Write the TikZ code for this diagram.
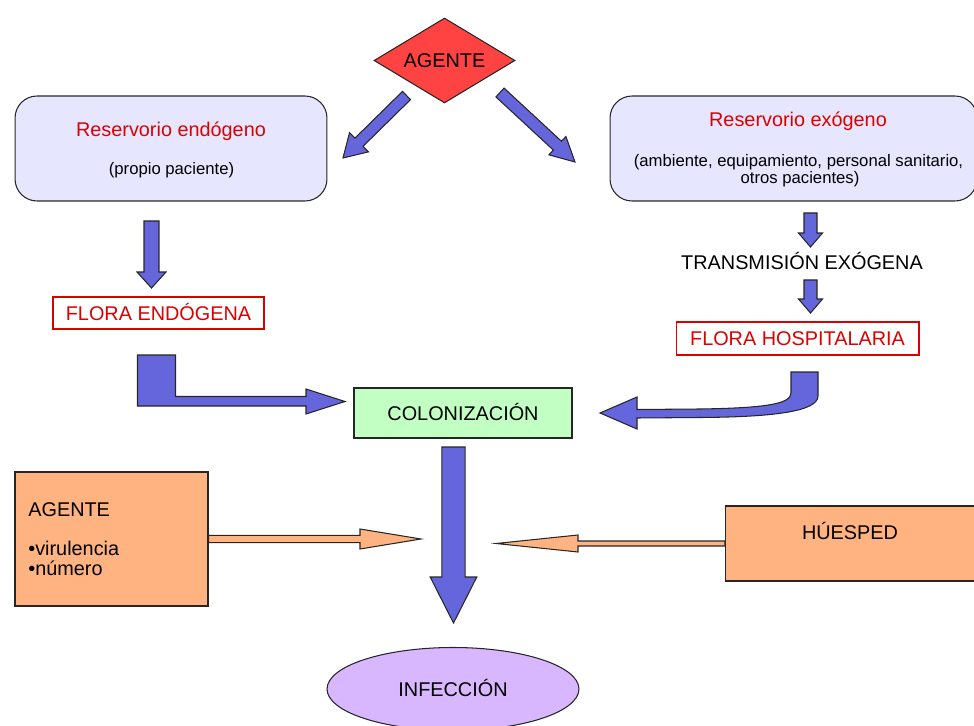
\documentclass[tikz,border=0pt]{standalone}
\usepackage{fontspec}
\setmainfont{Liberation Sans}
\usepackage{tikz}
\usetikzlibrary{shapes.geometric,calc}
\definecolor{agentred}{RGB}{255,66,66}
\definecolor{arrowblue}{RGB}{102,102,220}
\definecolor{reslav}{RGB}{230,230,255}
\definecolor{colgreen}{RGB}{194,255,194}
\definecolor{hostorange}{RGB}{255,179,128}
\definecolor{infpurple}{RGB}{217,183,255}
\definecolor{florared}{RGB}{220,0,0}
\newcommand{\mainsize}{\fontsize{11.3pt}{13pt}\selectfont}
\newcommand{\subsize}{\fontsize{9.5pt}{11pt}\selectfont}
% block arrow: [style]{tail}{tip}{half shaft}{half head}{head length}
\newcommand{\blockarrow}[6][]{%
  \coordinate (ba-c) at ($(#3)!#6!(#2)$);
  \draw[line width=0.6pt,#1] ($(#2)!#4!90:(#3)$) -- ($(ba-c)!#4!-90:(#2)$)
    -- ($(ba-c)!#5!-90:(#2)$) -- (#3) -- ($(ba-c)!#5!90:(#2)$)
    -- ($(ba-c)!#4!90:(#2)$) -- ($(#2)!#4!-90:(#3)$) -- cycle;
}

\begin{document}
\begin{tikzpicture}[x=0.02cm,y=-0.02cm,
    every node/.style={inner sep=0pt,font=\mainsize},
    outline/.style={draw=black!85,line width=0.6pt},
    capline/.style={text height=8.1pt,text depth=0pt},
    resbox/.style={outline,fill=reslav,rounded corners=0.44cm,minimum width=#1,minimum height=2.1cm},
    florabox/.style={draw=florared,line width=0.6pt,fill=white,text=florared,capline},
    blockblue/.style={draw=black!85,fill=arrowblue},
    blockorange/.style={draw=black!85,fill=hostorange}]
  \useasboundingbox (0,0) rectangle (974,726);
  \clip (0,0) rectangle (974,726);
  % Agent at the top
  \node[diamond,aspect=1.66,outline,fill=agentred,minimum width=2.82cm,minimum height=1.7cm,capline] (agente) at (444.5,60.5) {AGENTE};
  % Reservoirs
  \node[resbox=6.24cm] (resEndo) at (171,148.5) {};
  \node[anchor=base,text=florared] (resEndoT) at (171,137) {Reservorio endógeno};
  \node[anchor=base,font=\subsize] (resEndoS) at (171.5,175) {(propio paciente)};
  \node[resbox=7.34cm] (resExo) at (793.5,148.5) {};
  \node[anchor=base,text=florared] (resExoT) at (798,127) {Reservorio exógeno};
  \node[anchor=base,font=\subsize] (resExoS1) at (798.5,167) {(ambiente, equipamiento, personal sanitario,};
  \node[anchor=base,font=\subsize] (resExoS2) at (800,184) {otros pacientes)};
  % Flora
  \node[florabox,minimum width=4.22cm,minimum height=0.64cm] (floraEndo) at (158.5,313) {FLORA ENDÓGENA};
  \node[anchor=base] (transExo) at (802,270) {TRANSMISIÓN EXÓGENA};
  \node[florabox,minimum width=4.86cm,minimum height=0.66cm] (floraHosp) at (797.5,338.5) {FLORA HOSPITALARIA};
  % Colonization and infection
  \node[outline,fill=colgreen,minimum width=4.36cm,minimum height=1cm,capline] (coloniz) at (463,413) {COLONIZACIÓN};
  \node[ellipse,outline,fill=infpurple,minimum width=5.04cm,minimum height=1.66cm,capline] (infeccion) at (453,689) {INFECCIÓN};
  % Factors
  \node[outline,fill=hostorange,minimum width=3.86cm,minimum height=2.68cm] (agBox) at (111.5,539) {};
  \node[anchor=base west] (agTitle) at (28,516) {AGENTE};
  \node[anchor=base west] (agVir) at (28,555.5) {•virulencia};
  \node[anchor=base west] (agNum) at (28,575) {•número};
  \node[outline,fill=hostorange,minimum width=5.04cm,minimum height=1.5cm] (huBox) at (851.5,543.5) {};
  \node[anchor=base] (huText) at (850,539) {HÚESPED};
  % Arrow ends
  \coordinate (agL0) at (406.5,95.5);  \coordinate (agL1) at (343,158);
  \coordinate (agR0) at (500,92.5);    \coordinate (agR1) at (575,162);
  \coordinate (enD0) at (151.5,221);   \coordinate (enD1) at (151.5,288);
  \coordinate (exD0) at (810.5,213);   \coordinate (exD1) at (810.5,247);
  \coordinate (trD0) at (810.5,280);   \coordinate (trD1) at (810.5,313);
  \coordinate (coD0) at (453.5,447);   \coordinate (coD1) at (453.5,623);
  \coordinate (agTip) at (421,539);    \coordinate (huTip) at (496,543.5);
  % Straight arrows
  \foreach \from/\to/\shaft/\head/\hlen in {agL0/agL1/0.115cm/0.27cm/0.45cm,
      agR0/agR1/0.12cm/0.25cm/0.48cm, enD0/enD1/0.15cm/0.29cm/0.32cm,
      exD0/exD1/0.13cm/0.24cm/0.28cm, trD0/trD1/0.13cm/0.24cm/0.28cm,
      coD0/coD1/0.234cm/0.466cm/0.92cm}{
    \blockarrow[blockblue]{\from}{\to}{\shaft}{\head}{\hlen}
  }
  \blockarrow[blockorange]{agBox.east}{agTip}{0.072cm}{0.2cm}{1.22cm}
  \blockarrow[blockorange]{huBox.west}{huTip}{0.05cm}{0.17cm}{1.64cm}
  % Bent arrows into colonization
  \draw[blockblue,line width=0.6pt] (137.5,355) -- (175.5,355) -- (175.5,396.5) -- (306,396.5)
    -- (306,389) -- (345,401.5) -- (306,414) -- (306,406) -- (137.5,406) -- cycle;
  \draw[blockblue,line width=0.6pt] (791,372) -- (818,372) -- (818,396)
    .. controls (818,412) and (770,417) .. (700,417.5) -- (637,418) -- (637,429)
    -- (600,413) -- (637,397) -- (637,409.5) -- (700,409)
    .. controls (765,408) and (791,404) .. (791,393) -- cycle;
\end{tikzpicture}
\end{document}
